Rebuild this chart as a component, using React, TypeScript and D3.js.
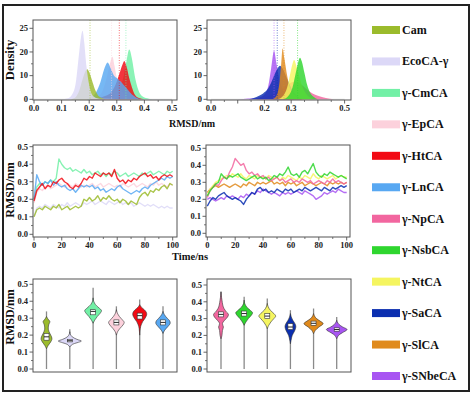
import React from 'react'
import * as d3 from 'd3'

// ---- names, colours ----
const leftKeys = ['Cam', 'EcoCA-γ', 'γ-CmCA', 'γ-EpCA', 'γ-HtCA', 'γ-LnCA']
const rightKeys = ['γ-NpCA', 'γ-NsbCA', 'γ-NtCA', 'γ-SaCA', 'γ-SlCA', 'γ-SNbeCA']
const legendKeys = [...leftKeys, ...rightKeys]
const legendColors = ['#9bbb2c', '#dcd8f7', '#72f0a6', '#fcd1dc', '#f20a14', '#58a8f2',
  '#f2669f', '#2fd62f', '#f5f560', '#0b2fb0', '#e08a1c', '#a855f2']

// ---- density curves: [rmsd nm, density] ----
const densCam = [[0.13, 0], [0.15, 0.8], [0.165, 4], [0.175, 8], [0.185, 11.5], [0.193, 12.7], [0.2, 11.5], [0.21, 8], [0.22, 4.5], [0.23, 2], [0.245, 0.5], [0.26, 0]]
const densEco = [[0.1, 0], [0.12, 0.3], [0.135, 1.5], [0.15, 6], [0.162, 18], [0.17, 26], [0.176, 29], [0.182, 24], [0.19, 14], [0.2, 6], [0.21, 2], [0.225, 0.6], [0.25, 0.2], [0.35, 0.1], [0.48, 0]]
const densCm = [[0.27, 0], [0.29, 1], [0.31, 4], [0.325, 10], [0.335, 16], [0.345, 21], [0.355, 17], [0.365, 10], [0.375, 5], [0.39, 1.5], [0.41, 0.4], [0.43, 0]]
const densEp = [[0.2, 0], [0.23, 1], [0.25, 4], [0.265, 10], [0.275, 15], [0.284, 18], [0.292, 14], [0.3, 9], [0.315, 4], [0.33, 1.5], [0.35, 0.3], [0.37, 0]]
const densHt = [[0.2, 0], [0.23, 0.5], [0.26, 1.5], [0.28, 3], [0.295, 6], [0.31, 11], [0.32, 14.5], [0.327, 16.2], [0.335, 14], [0.345, 9], [0.355, 5], [0.365, 2], [0.38, 0.5], [0.4, 0]]
const densLn = [[0.19, 0], [0.21, 1], [0.225, 3], [0.24, 7], [0.255, 13], [0.267, 15.6], [0.278, 13], [0.29, 10], [0.3, 9], [0.31, 8], [0.325, 6], [0.34, 4], [0.355, 2], [0.37, 0.8], [0.39, 0]]
const densNp = [[0.17, 0], [0.2, 0.8], [0.23, 2], [0.26, 4], [0.29, 6.5], [0.315, 7.5], [0.34, 6], [0.36, 4], [0.38, 2.5], [0.4, 1.5], [0.43, 0.6], [0.46, 0]]
const densNsb = [[0.27, 0], [0.29, 1.5], [0.305, 5], [0.315, 10], [0.325, 15], [0.333, 17.6], [0.34, 16], [0.35, 11], [0.36, 6], [0.37, 3], [0.385, 1], [0.4, 0]]
const densNt = [[0.25, 0], [0.27, 1.5], [0.285, 5], [0.295, 10], [0.305, 15], [0.311, 16.6], [0.32, 14], [0.33, 10], [0.34, 6], [0.355, 2.5], [0.37, 0.8], [0.39, 0]]
const densSa = [[0.14, 0], [0.16, 0.5], [0.18, 1.5], [0.195, 2.5], [0.21, 4], [0.225, 7], [0.24, 11], [0.252, 13.5], [0.258, 14.2], [0.268, 13], [0.28, 10], [0.295, 6], [0.31, 3], [0.325, 1.2], [0.34, 0]]
const densSl = [[0.23, 0], [0.245, 1.5], [0.255, 6], [0.262, 14], [0.268, 21.5], [0.275, 17], [0.285, 10], [0.295, 5], [0.31, 2], [0.33, 0.6], [0.35, 0]]
const densSnb = [[0.1, 0], [0.14, 0.3], [0.18, 0.8], [0.2, 2], [0.215, 6], [0.225, 13], [0.236, 20.5], [0.245, 15], [0.255, 9], [0.265, 5], [0.28, 2], [0.3, 0.6], [0.32, 0]]

// dotted mean lines [key, rmsd]
const meansLeft: [string, number][] = [['Cam', 0.203], ['γ-EpCA', 0.281], ['γ-HtCA', 0.309], ['γ-CmCA', 0.333]]
const meansRight: [string, number][] = [['γ-SNbeCA', 0.236], ['γ-SaCA', 0.248], ['γ-SlCA', 0.273], ['γ-NsbCA', 0.324]]

const densTicks = [0, 10, 20, 30]
const densTickLabels = ['0', '10', '20', '25']
const rmsdTicks = [0, 0.1, 0.2, 0.3, 0.4, 0.5]
const rmsdLabelsLeft = ['0.0', '0.1', '0.2', '0.3', '0.4', '0.5']
const rmsdLabelsRight = ['0.0', '', '0.2', '0.3', '', '0.5']
const timeTicks = [0, 20, 40, 60, 80, 100]
const rmsdYTicks = [0, 0.1, 0.2, 0.3, 0.4, 0.5]
const rmsdYLabels = ['0.0', '0.1', '0.2', '0.3', '0.4', '0.5']

// ---- RMSD time series, every 2 ns from 0 to 100 ----
const timeNs = d3.range(0, 101, 2)
const tsCam = [0.10, 0.14, 0.15, 0.14, 0.16, 0.15, 0.14, 0.16, 0.15, 0.17, 0.14, 0.15, 0.16, 0.14, 0.15, 0.16, 0.15, 0.16, 0.20, 0.19, 0.21, 0.19, 0.20, 0.22, 0.19, 0.21, 0.20, 0.22, 0.20, 0.19, 0.20, 0.18, 0.20, 0.19, 0.17, 0.19, 0.18, 0.17, 0.21, 0.23, 0.24, 0.22, 0.25, 0.24, 0.26, 0.25, 0.27, 0.28, 0.26, 0.29, 0.28]
const tsEco = [0.10, 0.15, 0.16, 0.15, 0.17, 0.16, 0.15, 0.17, 0.16, 0.15, 0.17, 0.16, 0.18, 0.16, 0.17, 0.18, 0.17, 0.16, 0.18, 0.17, 0.18, 0.19, 0.17, 0.18, 0.19, 0.18, 0.17, 0.19, 0.18, 0.17, 0.18, 0.19, 0.17, 0.18, 0.17, 0.18, 0.16, 0.17, 0.18, 0.17, 0.16, 0.17, 0.16, 0.17, 0.16, 0.15, 0.16, 0.15, 0.16, 0.15, 0.15]
const tsCm = [0.20, 0.27, 0.29, 0.28, 0.30, 0.29, 0.31, 0.30, 0.32, 0.43, 0.40, 0.38, 0.37, 0.38, 0.36, 0.37, 0.36, 0.35, 0.37, 0.35, 0.36, 0.34, 0.35, 0.36, 0.34, 0.35, 0.33, 0.35, 0.34, 0.36, 0.35, 0.33, 0.34, 0.35, 0.33, 0.34, 0.35, 0.34, 0.33, 0.35, 0.34, 0.35, 0.36, 0.34, 0.35, 0.36, 0.35, 0.34, 0.36, 0.35, 0.36]
const tsEp = [0.18, 0.24, 0.26, 0.25, 0.27, 0.28, 0.26, 0.27, 0.28, 0.29, 0.28, 0.27, 0.29, 0.28, 0.27, 0.29, 0.28, 0.27, 0.28, 0.27, 0.28, 0.29, 0.27, 0.28, 0.29, 0.27, 0.28, 0.29, 0.28, 0.27, 0.28, 0.27, 0.29, 0.28, 0.27, 0.28, 0.29, 0.27, 0.28, 0.29, 0.28, 0.27, 0.29, 0.28, 0.30, 0.28, 0.29, 0.28, 0.27, 0.29, 0.28]
const tsHt = [0.19, 0.25, 0.27, 0.29, 0.26, 0.28, 0.27, 0.30, 0.29, 0.31, 0.32, 0.30, 0.29, 0.27, 0.26, 0.28, 0.27, 0.29, 0.32, 0.31, 0.33, 0.32, 0.35, 0.34, 0.33, 0.35, 0.34, 0.35, 0.33, 0.37, 0.32, 0.30, 0.31, 0.29, 0.31, 0.30, 0.32, 0.31, 0.33, 0.34, 0.35, 0.33, 0.34, 0.32, 0.33, 0.31, 0.33, 0.34, 0.33, 0.34, 0.33]
const tsLn = [0.20, 0.34, 0.30, 0.28, 0.30, 0.29, 0.31, 0.28, 0.30, 0.28, 0.27, 0.28, 0.26, 0.25, 0.26, 0.24, 0.26, 0.28, 0.27, 0.28, 0.27, 0.28, 0.26, 0.27, 0.25, 0.26, 0.24, 0.25, 0.26, 0.25, 0.27, 0.28, 0.26, 0.25, 0.24, 0.23, 0.24, 0.25, 0.24, 0.26, 0.27, 0.26, 0.28, 0.29, 0.30, 0.31, 0.32, 0.31, 0.33, 0.32, 0.33]
const tsNp = [0.21, 0.25, 0.27, 0.29, 0.28, 0.31, 0.33, 0.32, 0.36, 0.39, 0.44, 0.42, 0.40, 0.41, 0.37, 0.35, 0.36, 0.34, 0.35, 0.33, 0.34, 0.32, 0.33, 0.31, 0.32, 0.33, 0.31, 0.32, 0.30, 0.31, 0.32, 0.30, 0.31, 0.30, 0.32, 0.31, 0.30, 0.31, 0.29, 0.30, 0.31, 0.30, 0.29, 0.31, 0.30, 0.32, 0.30, 0.31, 0.30, 0.29, 0.30]
const tsNsb = [0.22, 0.25, 0.27, 0.29, 0.30, 0.35, 0.33, 0.32, 0.34, 0.33, 0.34, 0.35, 0.33, 0.32, 0.31, 0.32, 0.33, 0.34, 0.32, 0.33, 0.32, 0.33, 0.31, 0.32, 0.34, 0.33, 0.35, 0.34, 0.36, 0.39, 0.35, 0.34, 0.35, 0.33, 0.36, 0.37, 0.35, 0.38, 0.41, 0.36, 0.34, 0.33, 0.35, 0.34, 0.36, 0.35, 0.34, 0.33, 0.34, 0.33, 0.32]
const tsNt = [0.22, 0.26, 0.28, 0.30, 0.31, 0.32, 0.33, 0.34, 0.33, 0.35, 0.34, 0.33, 0.35, 0.33, 0.32, 0.34, 0.33, 0.32, 0.34, 0.33, 0.33, 0.32, 0.34, 0.33, 0.32, 0.33, 0.31, 0.33, 0.32, 0.34, 0.33, 0.32, 0.31, 0.33, 0.32, 0.34, 0.33, 0.32, 0.35, 0.33, 0.32, 0.34, 0.33, 0.32, 0.33, 0.34, 0.32, 0.33, 0.34, 0.33, 0.33]
const tsSa = [0.16, 0.19, 0.21, 0.20, 0.22, 0.23, 0.24, 0.22, 0.21, 0.20, 0.21, 0.20, 0.19, 0.17, 0.20, 0.22, 0.24, 0.23, 0.26, 0.27, 0.25, 0.26, 0.24, 0.25, 0.24, 0.26, 0.25, 0.24, 0.26, 0.25, 0.26, 0.24, 0.25, 0.26, 0.25, 0.27, 0.26, 0.25, 0.26, 0.27, 0.26, 0.25, 0.27, 0.26, 0.25, 0.27, 0.26, 0.27, 0.28, 0.27, 0.28]
const tsSl = [0.24, 0.26, 0.27, 0.28, 0.27, 0.28, 0.29, 0.28, 0.27, 0.28, 0.29, 0.28, 0.27, 0.29, 0.28, 0.30, 0.29, 0.28, 0.30, 0.29, 0.30, 0.29, 0.30, 0.31, 0.29, 0.30, 0.29, 0.30, 0.28, 0.30, 0.29, 0.30, 0.28, 0.29, 0.30, 0.28, 0.29, 0.30, 0.29, 0.28, 0.29, 0.30, 0.29, 0.28, 0.30, 0.29, 0.30, 0.29, 0.30, 0.29, 0.30]
const tsSnb = [0.20, 0.21, 0.20, 0.19, 0.20, 0.21, 0.20, 0.22, 0.21, 0.22, 0.21, 0.20, 0.22, 0.21, 0.23, 0.22, 0.24, 0.23, 0.25, 0.24, 0.26, 0.25, 0.24, 0.23, 0.24, 0.23, 0.22, 0.24, 0.23, 0.24, 0.23, 0.24, 0.25, 0.24, 0.23, 0.25, 0.24, 0.23, 0.22, 0.20, 0.21, 0.22, 0.24, 0.23, 0.24, 0.25, 0.24, 0.26, 0.25, 0.24, 0.24]

// ---- violins: max of whisker, [q1, median, q3], profile [rmsd, width] ----
const violinMax = [0.34, 0.235, 0.48, 0.37, 0.41, 0.37, 0.46, 0.43, 0.42, 0.35, 0.36, 0.31]
const violinBox = [[0.17, 0.19, 0.21], [0.16, 0.167, 0.175], [0.32, 0.34, 0.35], [0.26, 0.275, 0.29], [0.295, 0.315, 0.33], [0.26, 0.275, 0.29],
  [0.31, 0.325, 0.34], [0.315, 0.33, 0.345], [0.3, 0.315, 0.33], [0.235, 0.25, 0.27], [0.26, 0.272, 0.285], [0.225, 0.235, 0.245]]
const violCam = [[0.12, 0], [0.14, 0.15], [0.16, 0.35], [0.175, 0.45], [0.19, 0.42], [0.21, 0.28], [0.235, 0.15], [0.26, 0.18], [0.28, 0.28], [0.295, 0.12], [0.31, 0]]
const violEco = [[0.13, 0], [0.145, 0.2], [0.155, 0.6], [0.165, 0.96], [0.175, 0.6], [0.19, 0.2], [0.205, 0.05], [0.22, 0]]
const violCm = [[0.27, 0], [0.29, 0.15], [0.31, 0.35], [0.33, 0.6], [0.345, 0.7], [0.36, 0.5], [0.38, 0.2], [0.4, 0.05], [0.42, 0]]
const violEp = [[0.2, 0], [0.22, 0.1], [0.24, 0.3], [0.26, 0.55], [0.275, 0.65], [0.29, 0.5], [0.31, 0.25], [0.33, 0.08], [0.35, 0]]
const violHt = [[0.2, 0], [0.24, 0.05], [0.26, 0.12], [0.28, 0.25], [0.3, 0.45], [0.32, 0.58], [0.335, 0.55], [0.35, 0.38], [0.365, 0.14], [0.38, 0]]
const violLn = [[0.21, 0], [0.23, 0.15], [0.25, 0.4], [0.27, 0.6], [0.285, 0.55], [0.3, 0.35], [0.32, 0.12], [0.34, 0]]
const violNp = [[0.18, 0], [0.2, 0.08], [0.23, 0.12], [0.25, 0.2], [0.27, 0.12], [0.29, 0.3], [0.31, 0.55], [0.325, 0.62], [0.34, 0.45], [0.36, 0.25], [0.38, 0.15], [0.41, 0.08], [0.44, 0.02], [0.46, 0]]
const violNsb = [[0.26, 0], [0.28, 0.15], [0.3, 0.35], [0.32, 0.6], [0.335, 0.7], [0.35, 0.5], [0.37, 0.2], [0.39, 0.05], [0.41, 0]]
const violNt = [[0.24, 0], [0.26, 0.12], [0.28, 0.3], [0.3, 0.55], [0.315, 0.7], [0.33, 0.55], [0.35, 0.25], [0.37, 0.08], [0.39, 0]]
const violSa = [[0.15, 0], [0.17, 0.05], [0.2, 0.15], [0.22, 0.3], [0.24, 0.42], [0.255, 0.45], [0.27, 0.38], [0.29, 0.2], [0.31, 0.07], [0.33, 0]]
const violSl = [[0.21, 0], [0.23, 0.15], [0.25, 0.45], [0.27, 0.8], [0.285, 0.55], [0.3, 0.25], [0.315, 0.08], [0.33, 0]]
const violSnb = [[0.18, 0], [0.2, 0.15], [0.215, 0.45], [0.235, 0.86], [0.25, 0.5], [0.265, 0.2], [0.28, 0.05], [0.29, 0]]

const densByKey: Record<string, number[][]> = {
  'Cam': densCam, 'EcoCA-γ': densEco, 'γ-CmCA': densCm, 'γ-EpCA': densEp, 'γ-HtCA': densHt, 'γ-LnCA': densLn,
  'γ-NpCA': densNp, 'γ-NsbCA': densNsb, 'γ-NtCA': densNt, 'γ-SaCA': densSa, 'γ-SlCA': densSl, 'γ-SNbeCA': densSnb
}
const tsByKey: Record<string, number[]> = {
  'Cam': tsCam, 'EcoCA-γ': tsEco, 'γ-CmCA': tsCm, 'γ-EpCA': tsEp, 'γ-HtCA': tsHt, 'γ-LnCA': tsLn,
  'γ-NpCA': tsNp, 'γ-NsbCA': tsNsb, 'γ-NtCA': tsNt, 'γ-SaCA': tsSa, 'γ-SlCA': tsSl, 'γ-SNbeCA': tsSnb
}
const violByKey: Record<string, number[][]> = {
  'Cam': violCam, 'EcoCA-γ': violEco, 'γ-CmCA': violCm, 'γ-EpCA': violEp, 'γ-HtCA': violHt, 'γ-LnCA': violLn,
  'γ-NpCA': violNp, 'γ-NsbCA': violNsb, 'γ-NtCA': violNt, 'γ-SaCA': violSa, 'γ-SlCA': violSl, 'γ-SNbeCA': violSnb
}

const color = d3.scaleOrdinal<string, string>().domain(legendKeys).range(legendColors)

const FONT = '"Liberation Serif", "Times New Roman", serif'
const AXIS = '#555'

type Box = { l: number, t: number, r: number, b: number }

function Frame ({ f }: { f: Box }) {
  return <rect x={f.l} y={f.t} width={f.r - f.l} height={f.b - f.t} fill='none' stroke={AXIS} strokeWidth={1} />
}

function YAxis ({ f, y, ticks, labels, minor }: any) {
  return <g>
    {minor.map((v: number, i: number) => <line key={'m' + i} x1={f.l - 2} x2={f.l} y1={y(v)} y2={y(v)} stroke={AXIS} strokeWidth={0.8} />)}
    {ticks.map((v: number, i: number) => <g key={i}>
      <line x1={f.l - 3.5} x2={f.l} y1={y(v)} y2={y(v)} stroke={AXIS} strokeWidth={0.9} />
      <text x={f.l - 5} y={y(v)} dy='0.33em' textAnchor='end' fontSize={8.5} fontWeight='bold' fontFamily={FONT} fill='#222'>{labels[i]}</text>
    </g>)}
  </g>
}

function XAxis ({ f, x, ticks, labels, minor }: any) {
  return <g>
    {minor.map((v: number, i: number) => <line key={'m' + i} x1={x(v)} x2={x(v)} y1={f.b} y2={f.b + 2} stroke={AXIS} strokeWidth={0.8} />)}
    {ticks.map((v: number, i: number) => <g key={i}>
      <line x1={x(v)} x2={x(v)} y1={f.b} y2={f.b + 3.5} stroke={AXIS} strokeWidth={0.9} />
      <text x={x(v)} y={f.b + 11} textAnchor='middle' fontSize={8.5} fontWeight='bold' fontFamily={FONT} fill='#222'>{labels[i]}</text>
    </g>)}
  </g>
}

function DensityPanel ({ id, f, x, order, means, xLabels }: any) {
  const y = d3.scaleLinear().domain([0, 30]).range([99.3, 28.3])
  const area = d3.area<number[]>().x(d => x(d[0])).y0(y(0)).y1(d => y(d[1])).curve(d3.curveMonotoneX)
  return <g>
    <defs><clipPath id={id}><rect x={f.l} y={f.t} width={f.r - f.l} height={f.b - f.t} /></clipPath></defs>
    <g clipPath={`url(#${id})`}>
      <line x1={x(0)} x2={x(0.5)} y1={y(0)} y2={y(0)} stroke='#ddd' strokeWidth={1} />
      {order.map((k: string) => <path key={k} d={area(densByKey[k]) || ''} fill={color(k)} fillOpacity={0.82} />)}
      {means.map(([k, v]: [string, number]) => <line key={k} x1={x(v)} x2={x(v)} y1={f.t} y2={f.b} stroke={color(k)} strokeWidth={0.8} strokeDasharray='1,1.5' strokeOpacity={0.75} />)}
    </g>
    <Frame f={f} />
    <YAxis f={f} y={y} ticks={densTicks} labels={densTickLabels} minor={[5, 15, 25]} />
    <XAxis f={f} x={x} ticks={rmsdTicks} labels={xLabels} minor={[0.05, 0.15, 0.25, 0.35, 0.45]} />
  </g>
}

function TimePanel ({ id, f, x, y, order }: any) {
  const line = d3.line<number>().x((_, i) => x(timeNs[i])).y(v => y(v))
  return <g>
    <defs><clipPath id={id}><rect x={f.l} y={f.t} width={f.r - f.l} height={f.b - f.t} /></clipPath></defs>
    <g clipPath={`url(#${id})`}>
      {order.map((k: string) => <path key={k} d={line(tsByKey[k]) || ''} fill='none' stroke={color(k)} strokeWidth={1.4} strokeOpacity={0.85} strokeLinejoin='round' />)}
    </g>
    <Frame f={f} />
    <YAxis f={f} y={y} ticks={rmsdYTicks} labels={rmsdYLabels} minor={[0.05, 0.15, 0.25, 0.35, 0.45]} />
    <XAxis f={f} x={x} ticks={timeTicks} labels={timeTicks.map(String)} minor={[10, 30, 50, 70, 90]} />
  </g>
}

function ViolinPanel ({ f, cx, y, keys }: any) {
  const w = d3.scaleLinear().domain([0, 1]).range([0, 12])
  return <g>
    <Frame f={f} />
    {keys.map((k: string) => {
      const i = legendKeys.indexOf(k)
      const c = cx(k)
      const area = d3.area<number[]>().y(d => y(d[0])).x0(d => c - w(d[1])).x1(d => c + w(d[1])).curve(d3.curveCatmullRom)
      const [q1, med, q3] = violinBox[i]
      return <g key={k}>
        <line x1={c} x2={c} y1={y(0)} y2={y(violinMax[i])} stroke='#8a8a8a' strokeWidth={1.3} />
        <path d={area(violByKey[k]) || ''} fill={color(k)} stroke='#333' strokeWidth={0.6} />
        <rect x={c - 2.5} y={y(q3)} width={5} height={y(q1) - y(q3)} fill='white' stroke='#333' strokeWidth={0.6} />
        <line x1={c - 2.5} x2={c + 2.5} y1={y(med)} y2={y(med)} stroke='#111' strokeWidth={0.9} />
      </g>
    })}
    <YAxis f={f} y={y} ticks={rmsdYTicks} labels={rmsdYLabels} minor={[0.05, 0.15, 0.25, 0.35, 0.45]} />
  </g>
}

export default function App () {
  const fTL = { l: 33, t: 20, r: 177, b: 100 }
  const fTR = { l: 207, t: 20, r: 351, b: 100 }
  const fML = { l: 33, t: 145, r: 177, b: 237 }
  const fMR = { l: 206, t: 145, r: 350, b: 237 }
  const fBL = { l: 33, t: 279, r: 177, b: 372 }
  const fBR = { l: 207, t: 279, r: 351, b: 372 }

  const legendY = d3.scalePoint<string>().domain(legendKeys).range([30, 376])

  return (
    <svg width={474} height={398} style={{ position: 'absolute', left: 0, top: 0, background: 'white' }}>
      <rect x={0} y={0} width={474} height={398} fill='white' />
      <rect x={3} y={5} width={466} height={386} fill='none' stroke='#222' strokeWidth={2} />

      <DensityPanel id='cTL' f={fTL} x={d3.scaleLinear().domain([0, 0.5]).range([34, 172])}
        order={['γ-CmCA', 'γ-EpCA', 'γ-HtCA', 'γ-LnCA', 'Cam', 'EcoCA-γ']} means={meansLeft} xLabels={rmsdLabelsLeft} />
      <DensityPanel id='cTR' f={fTR} x={d3.scaleLinear().domain([0, 0.5]).range([211, 344.6])}
        order={['γ-NpCA', 'γ-SNbeCA', 'γ-SaCA', 'γ-SlCA', 'γ-NtCA', 'γ-NsbCA']} means={meansRight} xLabels={rmsdLabelsRight} />

      <TimePanel id='cML' f={fML} x={d3.scaleLinear().domain([0, 100]).range([34, 172.7])} y={d3.scaleLinear().domain([0, 0.5]).range([234.3, 146.7])}
        order={['EcoCA-γ', 'γ-EpCA', 'Cam', 'γ-CmCA', 'γ-LnCA', 'γ-HtCA']} />
      <TimePanel id='cMR' f={fMR} x={d3.scaleLinear().domain([0, 100]).range([207.3, 346.7])} y={d3.scaleLinear().domain([0, 0.5]).range([233.3, 148.3])}
        order={['γ-SlCA', 'γ-NtCA', 'γ-NpCA', 'γ-SNbeCA', 'γ-SaCA', 'γ-NsbCA']} />

      <ViolinPanel f={fBL} cx={d3.scalePoint<string>().domain(leftKeys).range([46.5, 163])} y={d3.scaleLinear().domain([0, 0.5]).range([369, 284.3])} keys={leftKeys} />
      <ViolinPanel f={fBR} cx={d3.scalePoint<string>().domain(rightKeys).range([221, 336.7])} y={d3.scaleLinear().domain([0, 0.5]).range([369, 285])} keys={rightKeys} />

      <g fontFamily={FONT} fontWeight='bold' fill='#111'>
        <text transform='translate(14,60) rotate(-90)' textAnchor='middle' fontSize={12.5}>Density</text>
        <text transform='translate(14,190) rotate(-90)' textAnchor='middle' fontSize={12}>RMSD/nm</text>
        <text transform='translate(14,317) rotate(-90)' textAnchor='middle' fontSize={12}>RMSD/nm</text>
        <text x={192} y={127} textAnchor='middle' fontSize={10}>RMSD/nm</text>
        <text x={190} y={260} textAnchor='middle' fontSize={10.5}>Time/ns</text>
      </g>

      {legendKeys.map(k => <g key={k}>
        <rect x={372} y={legendY(k)! - 4} width={28} height={8} fill={color(k)} />
        <text x={402} y={legendY(k)!} dy='0.33em' fontFamily={FONT} fontWeight='bold' fontSize={12} fill='#111'>{k}</text>
      </g>)}
    </svg>
  )
}
